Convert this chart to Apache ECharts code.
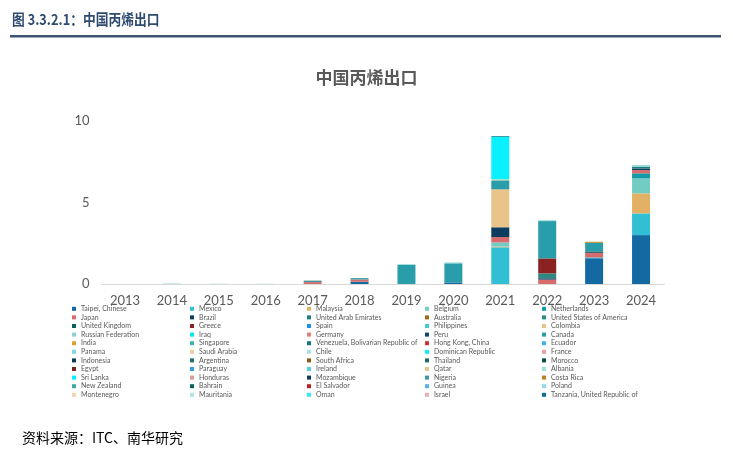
<!DOCTYPE html>
<html>
<head>
<meta charset="utf-8">
<script src="https://cdn.jsdelivr.net/npm/echarts@6/dist/echarts.min.js"></script>
<style>
html,body{margin:0;padding:0;background:#fff;}
#chart{width:733px;height:455px;}
</style>
</head>
<body>
<div id="chart"></div>
<script>
// ---- data ----
const years = ['2013','2014','2015','2016','2017','2018','2019','2020','2021','2022','2023','2024'];
const yTicks = [0, 5, 10];
const countries = [
  'Taipei, Chinese','Mexico','Malaysia','Belgium','Netherlands',
  'Japan','Brazil','United Arab Emirates','Australia','United States of America',
  'United Kingdom','Greece','Spain','Philippines','Colombia',
  'Russian Federation','Iraq','Germany','Peru','Canada',
  'India','Singapore','Venezuela, Bolivarian Republic of','Hong Kong, China','Ecuador',
  'Panama','Saudi Arabia','Chile','Dominican Republic','France',
  'Indonesia','Argentina','South Africa','Thailand','Morocco',
  'Egypt','Paraguay','Ireland','Qatar','Albania',
  'Sri Lanka','Honduras','Mozambique','Nigeria','Costa Rica',
  'New Zealand','Bahrain','El Salvador','Guinea','Poland',
  'Montenegro','Mauritania','Oman','Israel','Tanzania, United Republic of'
];
// values per year (2013..2024); countries not listed are zero
const taipeiChinese      = [0,0,0,0,0,0.14,0,0.10,0,0,1.58,3.00];
const mexico             = [0,0,0,0,0,0,0,0,2.25,0,0.05,1.33];
const malaysia           = [0,0,0,0,0,0,0,0,0.05,0,0,1.23];
const belgium            = [0,0,0,0,0,0,0,0,0.25,0,0,0.92];
const netherlands        = [0,0,0,0,0,0,0,0,0,0,0,0.31];
const japan              = [0,0,0,0,0.12,0.14,0,0,0.33,0.27,0.27,0.20];
const brazil             = [0,0,0,0,0,0,0,0,0.60,0.08,0.05,0.10];
const unitedArabEmirates = [0,0,0,0,0,0,0,0,0,0,0,0.10];
const unitedStates       = [0,0,0,0,0,0,0,0,0,0.30,0,0];
const unitedKingdom      = [0,0,0,0,0,0,0,0,0,0,0.05,0];
const greece             = [0,0,0,0,0,0,0,0,0,0.92,0,0];
const colombia           = [0,0,0,0,0,0,0,0,2.33,0,0,0];
const russianFederation  = [0,0.03,0,0,0,0,0,0,0,0,0,0.10];
const canada             = [0,0,0,0,0.06,0.08,1.17,1.17,0.55,2.29,0.53,0];
const saudiArabia        = [0,0,0,0,0,0,0,0,0.06,0,0,0];
const chile              = [0,0,0,0.015,0,0,0,0,0,0,0,0];
const dominicanRepublic  = [0,0,0,0,0,0,0,0,2.60,0,0,0];
const morocco            = [0,0,0,0,0.02,0,0,0,0,0,0,0];
const albania            = [0,0,0.015,0,0,0,0.06,0.06,0,0.06,0,0];
const nigeria            = [0,0,0,0,0,0,0,0,0.06,0,0,0];
const costaRica          = [0,0,0,0,0,0,0,0,0,0,0.06,0];

const valuesByCountry = {
  'Taipei, Chinese': taipeiChinese,
  'Mexico': mexico,
  'Malaysia': malaysia,
  'Belgium': belgium,
  'Netherlands': netherlands,
  'Japan': japan,
  'Brazil': brazil,
  'United Arab Emirates': unitedArabEmirates,
  'United States of America': unitedStates,
  'United Kingdom': unitedKingdom,
  'Greece': greece,
  'Colombia': colombia,
  'Russian Federation': russianFederation,
  'Canada': canada,
  'Saudi Arabia': saudiArabia,
  'Chile': chile,
  'Dominican Republic': dominicanRepublic,
  'Morocco': morocco,
  'Albania': albania,
  'Nigeria': nigeria,
  'Costa Rica': costaRica
};

// ---- styles ----
const palette = [
  '#1469A3','#30BFD3','#E2B166','#72CCC4','#149AA6',
  '#D86C6C','#0D3D5E','#1A8080','#A06A10','#2E8A80',
  '#0E5E5E','#8B2222','#1E90E0','#45C8D8','#E8C48A',
  '#8FD3D0','#00E5F5','#E08080','#0D4670','#2A9DAA',
  '#E0A030','#3DB7AE','#0E7A7A','#D03030','#40B0F0',
  '#7FD8E0','#F0D0A0','#A8E3E3','#0BF0FF','#E8A0A0',
  '#0C3A55','#1F6E6E','#8B5A14','#1F6A60','#0C4A4A',
  '#7B2020','#2EA0E0','#50D0E0','#EAC58A','#A0E0DC',
  '#00F0FF','#E09A9A','#0D3A5E','#3E9AA2','#C08020',
  '#40A8A0','#0A6060','#B82020','#5AB0E8','#90DDE8',
  '#F3D5B0','#B0E6E6','#30E8FF','#E8B0B0','#116DA0'
];

const zeros = years.map(() => 0);
const series = countries.map((name, i) => ({
  name: name,
  type: 'bar',
  stack: 'total',
  barWidth: 18,
  itemStyle: { color: palette[i] },
  emphasis: { disabled: true },
  data: valuesByCountry[name] || zeros
}));

const legendLefts = [72, 190, 307, 425, 542];
const legends = legendLefts.map((lx, col) => ({
  orient: 'vertical',
  left: lx,
  top: 304.5,
  padding: 0,
  itemGap: 0,
  itemWidth: 4,
  itemHeight: 4,
  icon: 'rect',
  selectedMode: false,
  textStyle: { fontSize: 7, lineHeight: 8.6, color: '#595959', fontFamily: 'Lato' },
  data: countries.filter((_, i) => i % 5 === col)
}));

const chart = echarts.init(document.getElementById('chart'));
chart.setOption({
  animation: false,
  backgroundColor: '#fff',
  color: palette,
  title: {
    text: '中国丙烯出口',
    left: 'center',
    top: 64,
    textStyle: { fontSize: 17, fontWeight: 'bold', color: '#595959', fontFamily: 'Noto Sans CJK SC' }
  },
  legend: legends,
  grid: { left: 101.5, right: 68.5, top: 121, bottom: 171, containLabel: false },
  xAxis: {
    type: 'category',
    data: years,
    axisLine: { lineStyle: { color: '#D9D9D9', width: 1 } },
    axisTick: { show: false },
    axisLabel: { color: '#595959', fontSize: 13, margin: 10, fontFamily: 'Lato' }
  },
  yAxis: {
    type: 'value',
    min: yTicks[0],
    max: yTicks[yTicks.length - 1],
    interval: yTicks[1] - yTicks[0],
    splitLine: { show: false },
    axisLine: { show: false },
    axisTick: { show: false },
    axisLabel: { color: '#595959', fontSize: 13, margin: 12, fontFamily: 'Lato' }
  },
  graphic: [
    {
      type: 'text', left: 12, top: 12, scaleX: 0.85,
      style: { text: '图 3.3.2.1：中国丙烯出口', fill: '#2F4A6F', font: 'bold 15px "Noto Sans CJK SC"' }
    },
    {
      type: 'rect', shape: { x: 10, y: 35, width: 711, height: 2.5 },
      style: { fill: '#3D5475' }
    },
    {
      type: 'text', left: 22, top: 431,
      style: { text: '资料来源：ITC、南华研究', fill: '#000', font: '14px "Noto Sans CJK SC"' }
    }
  ],
  series: series
});
</script>
</body>
</html>
